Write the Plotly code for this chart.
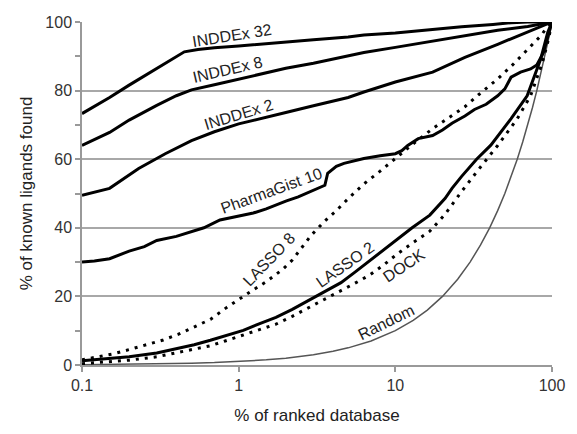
import plotly.graph_objects as go

# ---------------- data ----------------
inddex32_x = [0.1, 0.15, 0.2, 0.3, 0.4, 0.45, 0.55, 0.7, 1, 1.5, 2, 3, 5, 6.3, 10, 16.6, 26.5, 42, 55, 70, 100]
inddex32_y = [73.3, 78, 81.6, 86.5, 90.0, 91.3, 92.0, 92.5, 93.0, 93.7, 94.3, 94.8, 95.6, 96.2, 96.8, 97.8, 98.6, 99.3, 99.8, 100, 100]

inddex8_x = [0.1, 0.15, 0.2, 0.3, 0.4, 0.5, 0.7, 1, 1.4, 2, 3, 5, 6.3, 10, 17.3, 26.5, 45, 70, 100]
inddex8_y = [64.0, 67.8, 71.4, 75.7, 78.5, 80.2, 81.7, 83.4, 85.0, 86.5, 88.0, 90.0, 91.1, 92.6, 94.4, 95.8, 97.6, 98.7, 100]

inddex2_x = [0.1, 0.15, 0.23, 0.34, 0.5, 0.7, 1, 1.4, 2, 3, 5, 6.3, 10, 17.3, 27.8, 45, 73, 100]
inddex2_y = [49.5, 51.5, 57.3, 61.6, 65.4, 68.0, 70.3, 72.0, 73.6, 75.6, 78.0, 79.6, 82.5, 85.4, 89.7, 93.5, 97.3, 100]

pharma_x = [0.1, 0.12, 0.15, 0.18, 0.2, 0.25, 0.3, 0.4, 0.47, 0.6, 0.76, 0.9, 1.0, 1.24, 1.5, 2.0, 2.4, 2.9, 3.55, 3.7, 4.2, 4.7, 5.5, 6.3, 8, 10, 11, 12, 14, 17.3, 20, 23, 27.8, 32, 38, 45, 50, 54.8, 63, 73, 80, 88, 100]
pharma_y = [30.0, 30.3, 31.0, 32.5, 33.2, 34.5, 36.3, 37.5, 38.5, 40.0, 42.3, 43.0, 43.4, 44.3, 45.5, 47.8, 49.0, 50.6, 52.4, 55.9, 57.9, 58.8, 59.6, 60.2, 61.0, 61.6, 62.5, 64.0, 66.0, 66.9, 68.5, 70.5, 72.6, 74.5, 76.0, 78.5, 80.5, 83.9, 85.4, 86.3, 87.5, 91.0, 100]

lasso8_x = [0.1, 0.13, 0.16, 0.2, 0.26, 0.33, 0.41, 0.52, 0.66, 0.84, 1.04, 1.2, 1.49, 1.9, 2.2, 2.5, 2.9, 3.55, 4.2, 5.0, 6.3, 8, 10, 13, 17.3, 21, 27.8, 34, 45, 56, 73, 85, 92.6, 100]
lasso8_y = [1.5, 2.5, 3.3, 4.5, 5.9, 7.3, 8.9, 11.0, 13.3, 16.8, 19.7, 21.5, 24.2, 27.8, 30.6, 33.8, 37.8, 42.0, 45.0, 48.5, 52.8, 56.5, 60.2, 64.5, 68.9, 71.5, 75.3, 78.8, 83.4, 87.5, 93.0, 96.0, 98.4, 100]

lasso2_x = [0.1, 0.15, 0.2, 0.3, 0.41, 0.52, 0.66, 0.82, 1.07, 1.35, 1.73, 2.2, 2.8, 3.5, 4.5, 5.5, 6.9, 8.5, 10.1, 12.8, 16.6, 20.8, 23, 26.5, 33, 40.7, 54.8, 69.4, 84.6, 94, 100]
lasso2_y = [1.2, 1.8, 2.4, 3.5, 4.8, 5.9, 7.2, 8.6, 10.1, 12.0, 13.9, 16.2, 18.8, 21.3, 24.0, 27.0, 30.5, 33.5, 36.2, 40.0, 43.7, 48.6, 51.5, 55.0, 60.0, 64.1, 71.8, 78.5, 89.1, 97.0, 100]

dock_x = [0.1, 0.15, 0.2, 0.3, 0.41, 0.52, 0.66, 0.82, 1.07, 1.35, 1.73, 2.2, 2.8, 3.5, 4.5, 5.5, 6.9, 8.5, 10.1, 12.8, 16.6, 20.8, 26.5, 34, 45, 60, 73, 87, 95, 100]
dock_y = [0.4, 0.9, 1.4, 2.4, 3.6, 4.5, 5.6, 7.0, 8.7, 10.2, 11.9, 14.2, 16.8, 19.2, 21.7, 23.8, 26.3, 29.3, 32.1, 35.5, 39.0, 44.0, 50.6, 57.0, 64.0, 71.8, 78.5, 88.3, 95.0, 100]

random_x = [0.1, 0.2, 0.3, 0.5, 0.7, 1, 1.5, 2, 3, 4, 5, 7, 10, 13, 16, 20, 25, 30, 35, 40, 45, 50, 55, 60, 65, 70, 75, 80, 85, 90, 95, 100]
random_y = [0.1, 0.2, 0.3, 0.5, 0.7, 1, 1.5, 2, 3, 4, 5, 7, 10, 13, 16, 20, 25, 30, 35, 40, 45, 50, 55, 60, 65, 70, 75, 80, 85, 90, 95, 100]

x_tick_vals = [0.1, 1, 10, 100]
x_tick_text = ["0.1", "1", "10", "100"]
y_tick_vals = [0, 20, 40, 60, 80, 100]

labels = ["INDDEx 32", "INDDEx 8", "INDDEx 2", "PharmaGist 10", "LASSO 8", "LASSO 2", "DOCK", "Random"]

# ---------------- figure ----------------
FONT = "Liberation Sans, Arial, sans-serif"
fig = go.Figure()

solid = dict(color="black", width=3)
dotted = dict(color="black", width=3, dash="3px,6px")

fig.add_trace(go.Scatter(x=random_x, y=random_y, mode="lines", line=dict(color="#555555", width=1.5)))
fig.add_trace(go.Scatter(x=dock_x, y=dock_y, mode="lines", line=dotted))
fig.add_trace(go.Scatter(x=lasso8_x, y=lasso8_y, mode="lines", line=dotted))
fig.add_trace(go.Scatter(x=lasso2_x, y=lasso2_y, mode="lines", line=solid))
fig.add_trace(go.Scatter(x=pharma_x, y=pharma_y, mode="lines", line=solid))
fig.add_trace(go.Scatter(x=inddex2_x, y=inddex2_y, mode="lines", line=solid))
fig.add_trace(go.Scatter(x=inddex8_x, y=inddex8_y, mode="lines", line=solid))
fig.add_trace(go.Scatter(x=inddex32_x, y=inddex32_y, mode="lines", line=solid))

L, T, W, H = 82, 22, 480, 346

def px2paper(px, py):
    return (px - L) / W, (T + H - py) / H

label_pos = [(235, 36, -9), (231, 70, -13), (242, 115, -17), (276, 192, -20),
             (273, 262, -46), (351, 267, -35), (411, 268, -34), (392, 325, -26)]
for text, (px, py, ang) in zip(labels, label_pos):
    xp, yp = px2paper(px, py)
    fig.add_annotation(x=xp, y=yp, xref="paper", yref="paper", text=text,
                       showarrow=False, textangle=ang,
                       font=dict(family=FONT, size=16, color="#222222"),
                       xanchor="center", yanchor="middle")

fig.update_layout(
    width=577, height=434,
    margin=dict(l=L, r=577 - L - W, t=T, b=434 - T - H),
    paper_bgcolor="white", plot_bgcolor="white",
    showlegend=False,
    font=dict(family=FONT, color="#333333"),
)
fig.update_xaxes(
    type="log", range=[-1, 2],
    tickvals=x_tick_vals, ticktext=x_tick_text,
    ticks="outside", ticklen=5, tickcolor="#999999", tickwidth=1.5,
    showgrid=False, showline=True, linecolor="#999999", linewidth=1.5,
    tickfont=dict(family=FONT, size=16, color="#333333"),
    title=dict(text="% of ranked database", font=dict(family=FONT, size=17, color="#222222"), standoff=16),
    zeroline=False,
)
fig.update_yaxes(
    range=[0, 100], tickvals=y_tick_vals,
    ticks="outside", ticklen=5, tickcolor="#999999", tickwidth=1.5,
    showgrid=True, gridcolor="#a8a8a8", gridwidth=1.5,
    showline=True, linecolor="#999999", linewidth=1.5,
    minor=dict(dtick=10, tick0=0, ticks="outside", ticklen=5, tickcolor="#999999", tickwidth=1.5, showgrid=False),
    tickfont=dict(family=FONT, size=16, color="#333333"),
    title=dict(text="% of known ligands found", font=dict(family=FONT, size=17, color="#222222"), standoff=8),
    zeroline=False,
)

fig.write_html("out.html")
